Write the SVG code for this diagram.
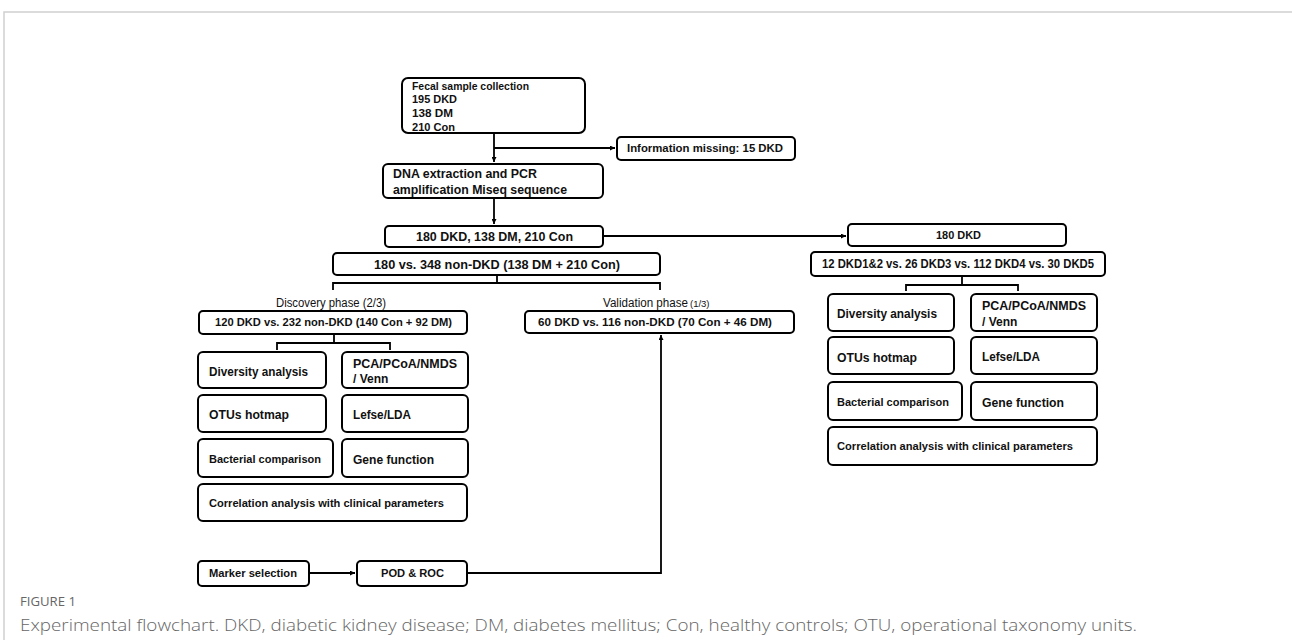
<svg xmlns="http://www.w3.org/2000/svg" width="1292" height="640" viewBox="0 0 1292 640">
<defs>
<marker id="ah" viewBox="0 0 10 10" refX="10" refY="5" markerWidth="5" markerHeight="5" orient="auto-start-reverse" markerUnits="userSpaceOnUse">
<path d="M0,0 L10,5 L0,10 z" fill="#000"/>
</marker>
<style>
.b{fill:#fff;stroke:#000;stroke-width:2}
.t{font-family:"Liberation Sans",Arial,sans-serif;font-weight:bold;fill:#111}
.p{font-family:"Liberation Sans",Arial,sans-serif;fill:#111}
.c{fill:none;stroke:#000;stroke-width:1.8}
.cap{font-family:"Open Sans","Liberation Sans",sans-serif;fill:#666}
</style>
</defs>
<rect width="1292" height="640" fill="#fff"/>
<path d="M4,640 V12 H1292" fill="none" stroke="#d0d0d0" stroke-width="1.5"/>

<g id="connectors" class="c">
<path d="M494,133 V162" marker-end="url(#ah)"/>
<path d="M494,148 H615" marker-end="url(#ah)"/>
<path d="M494,198 V224" marker-end="url(#ah)"/>
<path d="M603,236 H846" marker-end="url(#ah)"/>
<path d="M497,275 V283 M333,290 V283 H660 V290"/>
<path d="M334,334 V343 M277,350 V343 H390 V350"/>
<path d="M962,276 V285 M906,291 V285 H1018 V291"/>
<path d="M309,573 H355" marker-end="url(#ah)"/>
<path d="M467,573 H661 V335" marker-end="url(#ah)"/>
</g>

<g id="fecal"><rect class="b" x="402" y="78" width="183" height="55" rx="6"/>
<text class="t" font-size="11"><tspan x="412" y="90" textLength="117" lengthAdjust="spacingAndGlyphs">Fecal sample collection</tspan><tspan x="412" y="103" textLength="45" lengthAdjust="spacingAndGlyphs">195 DKD</tspan><tspan x="412" y="117" textLength="41" lengthAdjust="spacingAndGlyphs">138 DM</tspan><tspan x="412" y="131" textLength="43" lengthAdjust="spacingAndGlyphs">210 Con</tspan></text></g>

<g id="missing"><rect class="b" x="617" y="137" width="178" height="23" rx="4"/>
<text class="t" font-size="11" x="627" y="152" textLength="156" lengthAdjust="spacingAndGlyphs">Information missing: 15 DKD</text></g>

<g id="dna"><rect class="b" x="383" y="164" width="220" height="34" rx="5"/>
<text class="t" font-size="12.5"><tspan x="393" y="177.5" textLength="144" lengthAdjust="spacingAndGlyphs">DNA extraction and PCR</tspan><tspan x="393" y="193.5" textLength="174" lengthAdjust="spacingAndGlyphs">amplification Miseq sequence</tspan></text></g>

<g id="all"><rect class="b" x="385" y="226" width="218" height="21" rx="4"/>
<text class="t" font-size="12" x="416" y="240.5" textLength="157" lengthAdjust="spacingAndGlyphs">180 DKD, 138 DM, 210 Con</text></g>

<g id="vs348"><rect class="b" x="333" y="253" width="327" height="22" rx="4"/>
<text class="t" font-size="12" x="374" y="268.5" textLength="246" lengthAdjust="spacingAndGlyphs">180 vs. 348 non-DKD (138 DM + 210 Con)</text></g>

<g id="discovery"><text class="p" font-size="12" x="276" y="307" textLength="110" lengthAdjust="spacingAndGlyphs">Discovery phase (2/3)</text>
<rect class="b" x="199" y="311" width="268" height="23" rx="4"/>
<text class="t" font-size="11" x="215" y="326" textLength="237" lengthAdjust="spacingAndGlyphs">120 DKD vs. 232 non-DKD (140 Con + 92 DM)</text></g>

<g id="validation"><text class="p" font-size="12" y="307"><tspan x="603" textLength="85" lengthAdjust="spacingAndGlyphs">Validation phase</tspan><tspan x="690" font-size="9.5">(1/3)</tspan></text>
<rect class="b" x="525" y="311" width="269" height="22" rx="4"/>
<text class="t" font-size="11" x="538" y="326" textLength="234" lengthAdjust="spacingAndGlyphs">60 DKD vs. 116 non-DKD (70 Con + 46 DM)</text></g>

<g id="l-div"><rect class="b" x="198" y="352" width="128" height="36" rx="5"/>
<text class="t" font-size="12" x="209" y="375.5" textLength="99" lengthAdjust="spacingAndGlyphs">Diversity analysis</text></g>
<g id="l-pca"><rect class="b" x="342" y="352" width="126" height="36" rx="5"/>
<text class="t" font-size="12"><tspan x="353" y="367.5" textLength="104" lengthAdjust="spacingAndGlyphs">PCA/PCoA/NMDS</tspan><tspan x="353" y="382.5">/ Venn</tspan></text></g>
<g id="l-otu"><rect class="b" x="198" y="395" width="128" height="37" rx="5"/>
<text class="t" font-size="12" x="209" y="418.5" textLength="80" lengthAdjust="spacingAndGlyphs">OTUs hotmap</text></g>
<g id="l-lefse"><rect class="b" x="342" y="395" width="126" height="37" rx="5"/>
<text class="t" font-size="12" x="353" y="418.5" textLength="58" lengthAdjust="spacingAndGlyphs">Lefse/LDA</text></g>
<g id="l-bac"><rect class="b" x="198" y="439" width="135" height="38" rx="5"/>
<text class="t" font-size="10.5" x="209" y="462.5" textLength="112" lengthAdjust="spacingAndGlyphs">Bacterial comparison</text></g>
<g id="l-gene"><rect class="b" x="342" y="439" width="126" height="38" rx="5"/>
<text class="t" font-size="12" x="353" y="463.5" textLength="81" lengthAdjust="spacingAndGlyphs">Gene function</text></g>
<g id="l-corr"><rect class="b" x="198" y="484" width="269" height="37" rx="5"/>
<text class="t" font-size="11" x="209" y="507" textLength="235" lengthAdjust="spacingAndGlyphs">Correlation analysis with clinical parameters</text></g>
<g id="marker"><rect class="b" x="198" y="561" width="111" height="25" rx="4"/>
<text class="t" font-size="11" x="209" y="577" textLength="88" lengthAdjust="spacingAndGlyphs">Marker selection</text></g>
<g id="pod"><rect class="b" x="357" y="561" width="110" height="25" rx="4"/>
<text class="t" font-size="11" x="381" y="577" textLength="63" lengthAdjust="spacingAndGlyphs">POD &amp; ROC</text></g>

<g id="r-180"><rect class="b" x="848" y="224" width="218" height="22" rx="4"/>
<text class="t" font-size="11" x="936" y="239" textLength="45" lengthAdjust="spacingAndGlyphs">180 DKD</text></g>
<g id="r-stage"><rect class="b" x="811" y="252" width="294" height="24" rx="4"/>
<text class="t" font-size="12" x="822" y="268" textLength="272" lengthAdjust="spacingAndGlyphs">12 DKD1&amp;2 vs. 26 DKD3 vs. 112 DKD4 vs. 30 DKD5</text></g>
<g id="r-div"><rect class="b" x="828" y="294" width="126" height="37" rx="5"/>
<text class="t" font-size="12" x="837" y="317.5" textLength="100" lengthAdjust="spacingAndGlyphs">Diversity analysis</text></g>
<g id="r-pca"><rect class="b" x="971" y="294" width="126" height="37" rx="5"/>
<text class="t" font-size="12"><tspan x="982" y="309.5" textLength="104" lengthAdjust="spacingAndGlyphs">PCA/PCoA/NMDS</tspan><tspan x="982" y="325.5">/ Venn</tspan></text></g>
<g id="r-otu"><rect class="b" x="828" y="337" width="126" height="37" rx="5"/>
<text class="t" font-size="12" x="837" y="361.5" textLength="80" lengthAdjust="spacingAndGlyphs">OTUs hotmap</text></g>
<g id="r-lefse"><rect class="b" x="971" y="337" width="126" height="37" rx="5"/>
<text class="t" font-size="12" x="982" y="360.5" textLength="58" lengthAdjust="spacingAndGlyphs">Lefse/LDA</text></g>
<g id="r-bac"><rect class="b" x="828" y="382" width="134" height="38" rx="5"/>
<text class="t" font-size="10.5" x="837" y="405.5" textLength="112" lengthAdjust="spacingAndGlyphs">Bacterial comparison</text></g>
<g id="r-gene"><rect class="b" x="971" y="382" width="126" height="38" rx="5"/>
<text class="t" font-size="12" x="982" y="406.5" textLength="82" lengthAdjust="spacingAndGlyphs">Gene function</text></g>
<g id="r-corr"><rect class="b" x="828" y="427" width="269" height="38" rx="5"/>
<text class="t" font-size="11" x="837" y="450" textLength="236" lengthAdjust="spacingAndGlyphs">Correlation analysis with clinical parameters</text></g>

<text class="cap" font-size="12" x="20" y="606" textLength="56" lengthAdjust="spacingAndGlyphs">FIGURE 1</text>
<text class="cap" font-size="15.5" x="20" y="631" font-weight="300" textLength="1117" lengthAdjust="spacingAndGlyphs">Experimental flowchart. DKD, diabetic kidney disease; DM, diabetes mellitus; Con, healthy controls; OTU, operational taxonomy units.</text>
</svg>
